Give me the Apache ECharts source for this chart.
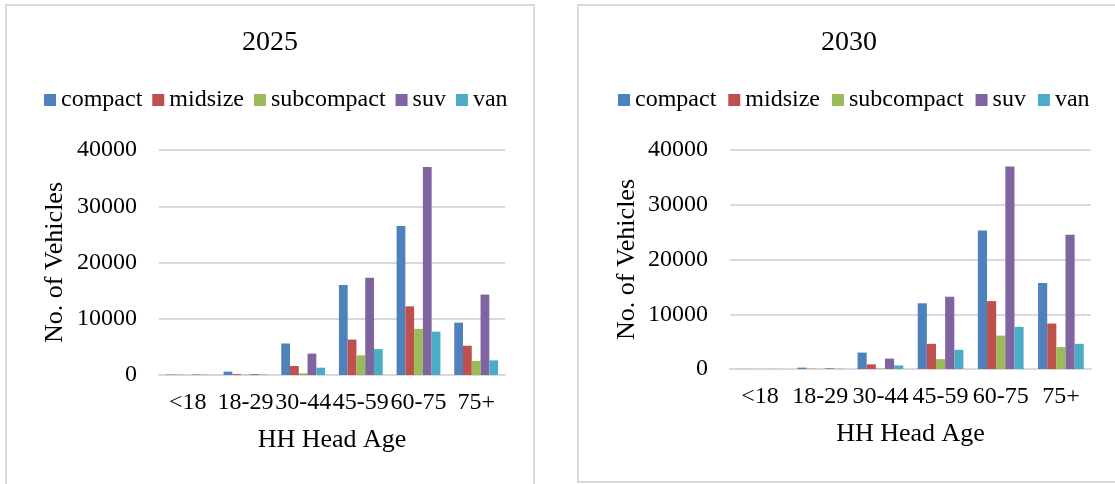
<!DOCTYPE html>
<html>
<head>
<meta charset="utf-8">
<script src="https://cdn.jsdelivr.net/npm/echarts@6/dist/echarts.min.js"></script>
<style>
  html, body { margin: 0; padding: 0; background: #fff; }
  #chart { width: 1115px; height: 484px; }
</style>
</head>
<body>
<div id="chart"></div>
<script>
// Household head age groups
const categories = ['<18', '18-29', '30-44', '45-59', '60-75', '75+'];
const seriesNames = ['compact', 'midsize', 'subcompact', 'suv', 'van'];
const yTicks = [0, 10000, 20000, 30000, 40000];

// Vehicle counts, 2025
const compact2025    = [80, 600, 5600, 16000, 26500, 9300];
const midsize2025    = [40, 150, 1600, 6300, 12200, 5200];
const subcompact2025 = [20, 60, 300, 3500, 8200, 2500];
const suv2025        = [80, 150, 3800, 17300, 37000, 14300];
const van2025        = [40, 80, 1300, 4600, 7700, 2600];

// Vehicle counts, 2030
const compact2030    = [20, 250, 3000, 12000, 25300, 15700];
const midsize2030    = [10, 40, 850, 4600, 12400, 8300];
const subcompact2030 = [5, 20, 100, 1800, 6100, 4000];
const suv2030        = [15, 120, 1900, 13200, 37000, 24500];
const van2030        = [10, 40, 650, 3500, 7700, 4600];

const colors = ['#4F81BD', '#C0504D', '#9BBB59', '#8064A2', '#4BACC6'];
const FONT = '"Liberation Serif", "Times New Roman", serif';

const data2025 = [compact2025, midsize2025, subcompact2025, suv2025, van2025];
const data2030 = [compact2030, midsize2030, subcompact2030, suv2030, van2030];

const panels = [
  { title: '2025', titleX: 270, legendLeft: 44, legendGap: 10,
    grid: { left: 159, right: 1115 - 505, top: 150, bottom: 484 - 375 },
    yNameGap: 91, data: data2025 },
  { title: '2030', titleX: 849, legendLeft: 618, legendGap: 12,
    grid: { left: 730, right: 1115 - 1091, top: 150, bottom: 484 - 369 },
    yNameGap: 90, data: data2030 }
];

const option = {
  animation: false,
  color: colors,
  textStyle: { fontFamily: FONT, color: '#000' },
  grid: panels.map(p => Object.assign({ containLabel: false }, p.grid)),
  legend: panels.map(p => ({
    data: seriesNames,
    left: p.legendLeft,
    top: 88,
    padding: 0,
    itemWidth: 12,
    itemHeight: 12,
    itemGap: p.legendGap,
    icon: 'rect',
    textStyle: { fontFamily: FONT, fontSize: 24, color: '#000' }
  })),
  xAxis: panels.map((p, i) => ({
    type: 'category',
    gridIndex: i,
    data: categories,
    name: 'HH Head Age',
    nameLocation: 'middle',
    nameGap: 52,
    nameTextStyle: { fontFamily: FONT, fontSize: 26, color: '#000' },
    axisLine: { lineStyle: { color: '#d9d9d9', width: 2 } },
    axisTick: { show: false },
    axisLabel: { interval: 0, margin: 16, fontFamily: FONT, fontSize: 24, color: '#000' }
  })),
  yAxis: panels.map((p, i) => ({
    type: 'value',
    gridIndex: i,
    min: yTicks[0],
    max: yTicks[yTicks.length - 1],
    interval: yTicks[1] - yTicks[0],
    name: 'No. of Vehicles',
    nameLocation: 'middle',
    nameGap: p.yNameGap,
    nameTextStyle: { fontFamily: FONT, fontSize: 26, color: '#000' },
    axisLine: { show: false },
    axisTick: { show: false },
    axisLabel: { margin: 22, fontFamily: FONT, fontSize: 24, color: '#000',
                 formatter: v => String(v) },
    splitLine: { lineStyle: { color: '#d9d9d9', width: 2 } }
  })),
  series: [],
  graphic: [
    // panel frames
    { type: 'rect', shape: { x: 6, y: 5, width: 528, height: 500 },
      style: { fill: 'none', stroke: '#d9d9d9', lineWidth: 2 }, silent: true },
    { type: 'rect', shape: { x: 578, y: 5, width: 560, height: 477 },
      style: { fill: 'none', stroke: '#d9d9d9', lineWidth: 2 }, silent: true }
  ].concat(panels.map(p => ({
    type: 'text', x: p.titleX, y: 43, silent: true,
    style: { text: p.title, align: 'center', verticalAlign: 'middle',
             font: '28px ' + FONT, fill: '#000' }
  })))
};

panels.forEach((p, i) => {
  seriesNames.forEach((name, k) => {
    option.series.push({
      type: 'bar',
      name: name,
      xAxisIndex: i,
      yAxisIndex: i,
      data: p.data[k],
      barGap: '0%',
      barCategoryGap: '24%',
      itemStyle: { color: colors[k] }
    });
  });
});

const chart = echarts.init(document.getElementById('chart'), null, { renderer: 'canvas' });
chart.setOption(option);
</script>
</body>
</html>
